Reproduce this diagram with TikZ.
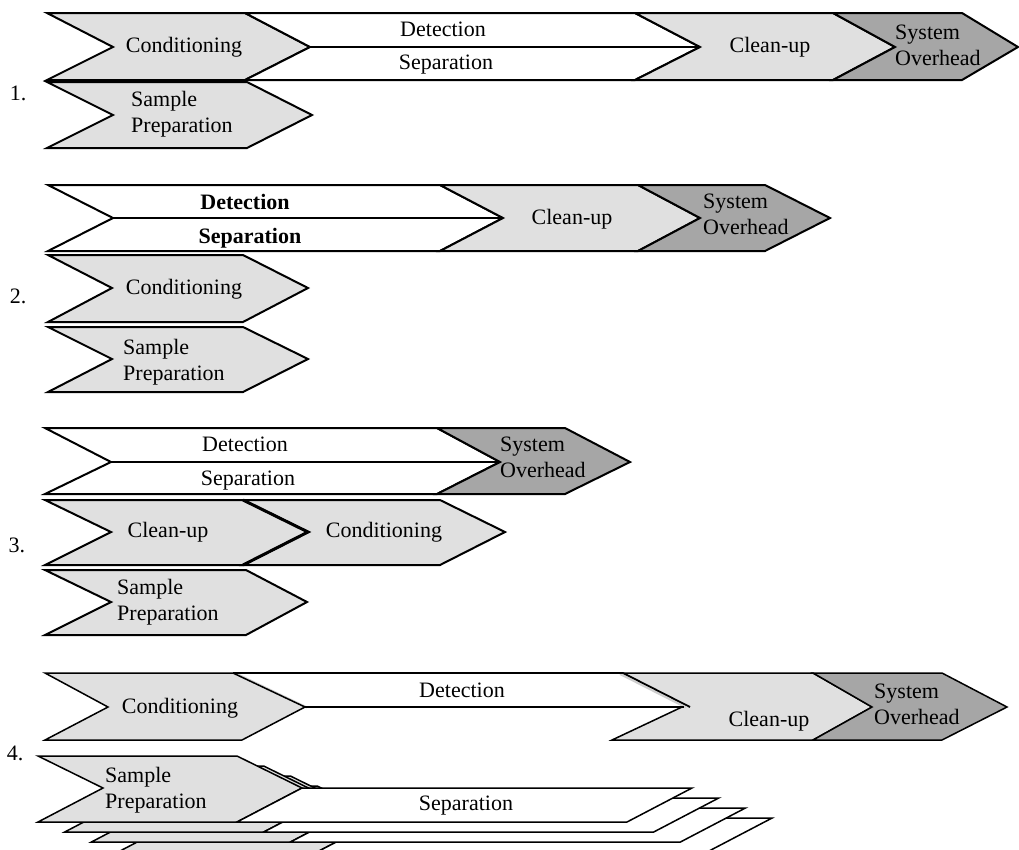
\documentclass[tikz,border=0pt]{standalone}
\usepackage{fontspec}
\setmainfont{Liberation Serif}
\definecolor{stagelight}{HTML}{E0E0E0}
\definecolor{stagedark}{HTML}{A6A6A6}
\definecolor{edgeshade}{HTML}{CFCFCF}
\begin{document}
\begin{tikzpicture}[x=1pt,y=-1pt,
  outline/.style={draw=black,line width=2pt},
  fineline/.style={draw=black,line width=1.5pt},
  light/.style={fill=stagelight},
  dark/.style={fill=stagedark},
  blank/.style={fill=white},
  lbl/.style={inner sep=0pt,font=\fontsize{22}{26}\selectfont,text height=15pt,text depth=5pt},
  lbltwo/.style={inner sep=0pt,font=\fontsize{22}{26}\selectfont,align=left,anchor=west},
  bold lbl/.style={lbl,font=\fontsize{22}{26}\selectfont\bfseries}
]
\useasboundingbox (0,0) rectangle (1019,849);
\clip (0,0) rectangle (1019,849);

% ---------------- Scheme 1 ----------------
\path[outline,light] (47,13)--(245,13)--(310,47)--(245,80)--(47,80)--(113,47)--cycle;
\path[outline,blank] (245,13)--(635,13)--(700,47)--(635,80)--(245,80)--(310,47)--cycle;
\draw[line width=2pt] (310,47)--(700,47);
\path[outline,light] (635,13)--(833,13)--(895,47)--(833,80)--(635,80)--(700,47)--cycle;
\path[outline,dark] (833,13)--(962,13)--(1018,47)--(962,80)--(833,80)--(895,47)--cycle;
\path[outline,light] (47,82)--(247,82)--(312,115)--(247,148)--(47,148)--(113,115)--cycle;

\node[lbl] (cond1) at (184,47) {Conditioning};
\node[lbl] (det1) at (443,31) {Detection};
\node[lbl] (sep1) at (446,64) {Separation};
\node[lbl] (clean1) at (770,47) {Clean-up};
\node[lbltwo] (sys1) at (895,45) {System\\Overhead};
\node[lbltwo] (samp1) at (131,114) {Sample\\Preparation};
\node[lbl] (num1) at (18,95) {1.};

% ---------------- Scheme 2 ----------------
\path[outline,blank] (48,185)--(440,185)--(503,218)--(440,251)--(48,251)--(113,218)--cycle;
\draw[line width=2pt] (113,218)--(503,218);
\path[outline,light] (440,185)--(638,185)--(700,218)--(638,251)--(440,251)--(503,218)--cycle;
\path[outline,dark] (638,185)--(765,185)--(830,218)--(765,251)--(638,251)--(700,218)--cycle;
\path[outline,light] (48,255)--(243,255)--(308,288)--(243,322)--(48,322)--(112,288)--cycle;
\path[outline,light] (48,327)--(243,327)--(308,359)--(243,392)--(48,392)--(112,359)--cycle;

\node[bold lbl] (det2) at (245,204) {Detection};
\node[bold lbl] (sep2) at (250,238) {Separation};
\node[lbl] (clean2) at (572,219) {Clean-up};
\node[lbltwo] (sys2) at (703,214) {System\\Overhead};
\node[lbl] (cond2) at (184,289) {Conditioning};
\node[lbltwo] (samp2) at (123,362) {Sample\\Preparation};
\node[lbl] (num2) at (18,298) {2.};

% ---------------- Scheme 3 ----------------
\path[outline,blank] (45,428)--(437,428)--(500,462)--(437,494)--(45,494)--(111,462)--cycle;
\draw[line width=2pt] (111,462)--(500,462);
\path[outline,dark] (437,428)--(565,428)--(630,462)--(565,494)--(437,494)--(500,462)--cycle;
\path[outline,light] (243,500)--(440,500)--(505,532)--(440,565)--(243,565)--(308,532)--cycle;
\path[outline,light] (45,500)--(243,500)--(308,532)--(243,565)--(45,565)--(111,532)--cycle;
\draw[line width=3pt] (243,500)--(308,532)--(243,565);
\path[outline,light] (45,570)--(246,570)--(307,602)--(246,635)--(45,635)--(111,602)--cycle;

\node[lbl] (det3) at (245,446) {Detection};
\node[lbl] (sep3) at (248,480) {Separation};
\node[lbltwo] (sys3) at (500,457) {System\\Overhead};
\node[lbl] (clean3) at (168,532) {Clean-up};
\node[lbl] (cond3) at (384,532) {Conditioning};
\node[lbltwo] (samp3) at (117,602) {Sample\\Preparation};
\node[lbl] (num3) at (17,547) {3.};

% ---------------- Scheme 4 ----------------
\path[fineline,light] (623,673)--(813,673)--(872,707)--(813,740)--(612,740)--(682,707)--cycle;
\path[fineline,dark] (813,673)--(942,673)--(1007,707)--(942,740)--(813,740)--(872,707)--cycle;
\fill[white] (233,673)--(623,673)--(690,707)--(305,707)--cycle;
\draw[edgeshade,line width=2pt] (237,674)--(307,707.5);
\draw[edgeshade,line width=2pt] (620,674)--(686,707.5);
\draw[line width=1.8pt] (233,673)--(623,673)--(690,707);
\draw[line width=1.5pt] (305,707)--(684,707);
\path[fineline,light] (45,673)--(233,673)--(305,707)--(242,740)--(45,740)--(108,707)--cycle;

% stacked repetitions of sample preparation and separation, drawn back to front
\foreach \k in {3,2,1}{
  \begin{scope}[shift={(26.7*\k,10*\k)}]
    \path[fineline,light] (38,756)--(237,756)--(302,788)--(237,822)--(38,822)--(103,788)--cycle;
    \path[fineline,blank] (302,788)--(692,788)--(627,822)--(237,822)--cycle;
  \end{scope}
}
\path[fineline,light] (38,756)--(237,756)--(302,788)--(237,822)--(38,822)--(103,788)--cycle;
\path[fineline,blank] (302,788)--(692,788)--(627,822)--(237,822)--cycle;

\node[lbl] (cond4) at (180,708) {Conditioning};
\node[lbl] (det4) at (462,692) {Detection};
\node[lbl] (clean4) at (769,721) {Clean-up};
\node[lbltwo] (sys4) at (874,704) {System\\Overhead};
\node[lbltwo] (samp4) at (105,790) {Sample\\Preparation};
\node[lbl] (sep4) at (466,805) {Separation};
\node[lbl] (num4) at (15,755) {4.};
\end{tikzpicture}
\end{document}
